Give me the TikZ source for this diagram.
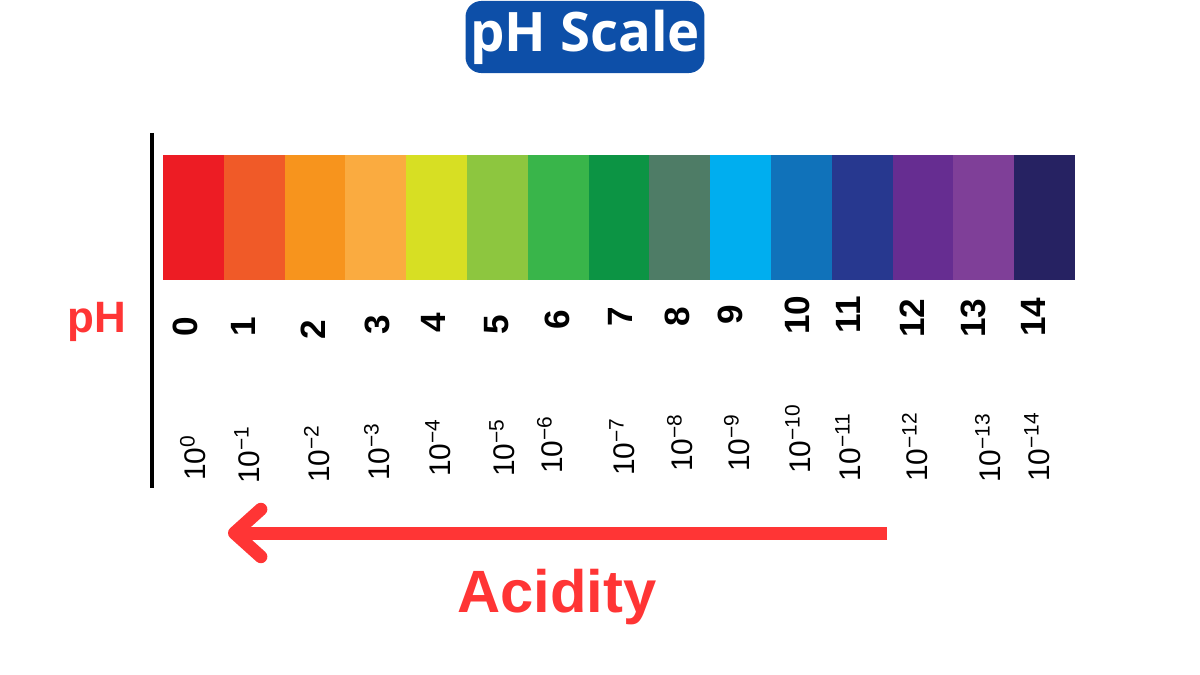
\documentclass[tikz,border=0pt]{standalone}
\usepackage{fontspec}
\setmainfont{Liberation Sans}
\newfontfamily\headfont{Open Sans}
\usetikzlibrary{arrows.meta,positioning}
\definecolor{phBlue}{HTML}{0D4FA8}
\definecolor{phRed}{HTML}{FF3535}
\definecolor{ph0}{HTML}{ED1C24}
\definecolor{ph1}{HTML}{F05A28}
\definecolor{ph2}{HTML}{F7941D}
\definecolor{ph3}{HTML}{FAAB40}
\definecolor{ph4}{HTML}{D7DF23}
\definecolor{ph5}{HTML}{8DC63F}
\definecolor{ph6}{HTML}{39B54A}
\definecolor{ph7}{HTML}{0C9444}
\definecolor{ph8}{HTML}{4E7C66}
\definecolor{ph9}{HTML}{00AEEF}
\definecolor{ph10}{HTML}{1072BA}
\definecolor{ph11}{HTML}{27388F}
\definecolor{ph12}{HTML}{662D91}
\definecolor{ph13}{HTML}{7F3F98}
\definecolor{ph14}{HTML}{262262}
\tikzset{
  headbox/.style={rounded corners=9pt, fill=phBlue, text=white, inner sep=0pt,
              minimum width=136pt, minimum height=41pt,
              font=\headfont\bfseries\fontsize{31}{34}\selectfont},
  axislbl/.style={text=phRed, font=\bfseries\fontsize{25}{28}\selectfont},
  phnum/.style={rotate=90, inner sep=0pt, font=\bfseries\fontsize{20}{22}\selectfont},
  conc/.style={rotate=90, inner sep=0pt, font=\fontsize{17}{19}\selectfont},
  acid/.style={-{Straight Barb[length=15pt,width=27pt,round]}, draw=phRed,
              line width=7.4pt},
}

\begin{document}
\begin{tikzpicture}[x=0.02cm,y=-0.02cm]
        \useasboundingbox (0,0) rectangle (1200,675);
        \node[headbox] (head) at (585,37) {pH Scale};
        % colour bar
        \foreach \i in {0,...,14}{\fill[fill=ph\i] ({163+60.8*\i},155) rectangle ++(60.8,125);}
        \draw[line width=2.4pt] (152,133) -- (152,488);
        \node[axislbl] (phlbl) at (97,322) {pH};
        \foreach \n/\x/\y in {0/185/327,1/243/327,2/313/330,3/377/325,4/433/323,
              5/497/325,6/557/320,7/620/317,8/677/317,9/730/315,10/797/315,
              11/848/315,12/912/318,13/973/318,14/1033/317}
          {\node[phnum] (num\n) at (\x,\y) {\n};}
        \node[conc] (conc0) at (193,458) {10\textsuperscript{0}};
        \foreach \n/\x/\y in {1/247/455,2/317/454,3/377/452,4/438/448,5/502/448,
              6/550/445,7/622/447,8/680/443,9/737/443,10/798/439,11/848/447,
              12/915/447,13/988/448,14/1037/447}
          {\node[conc] (conc\n) at (\x,\y) {10\textsuperscript{−\n}};}
        \coordinate (arrS) at (887,533);
        \coordinate (arrE) at (228,533);
        \draw[acid] (arrS) -- (arrE);
        \node[axislbl, font=\bfseries\fontsize{34}{38}\selectfont] (acidlbl) at (557,597) {Acidity};
      \end{tikzpicture}
\end{document}
